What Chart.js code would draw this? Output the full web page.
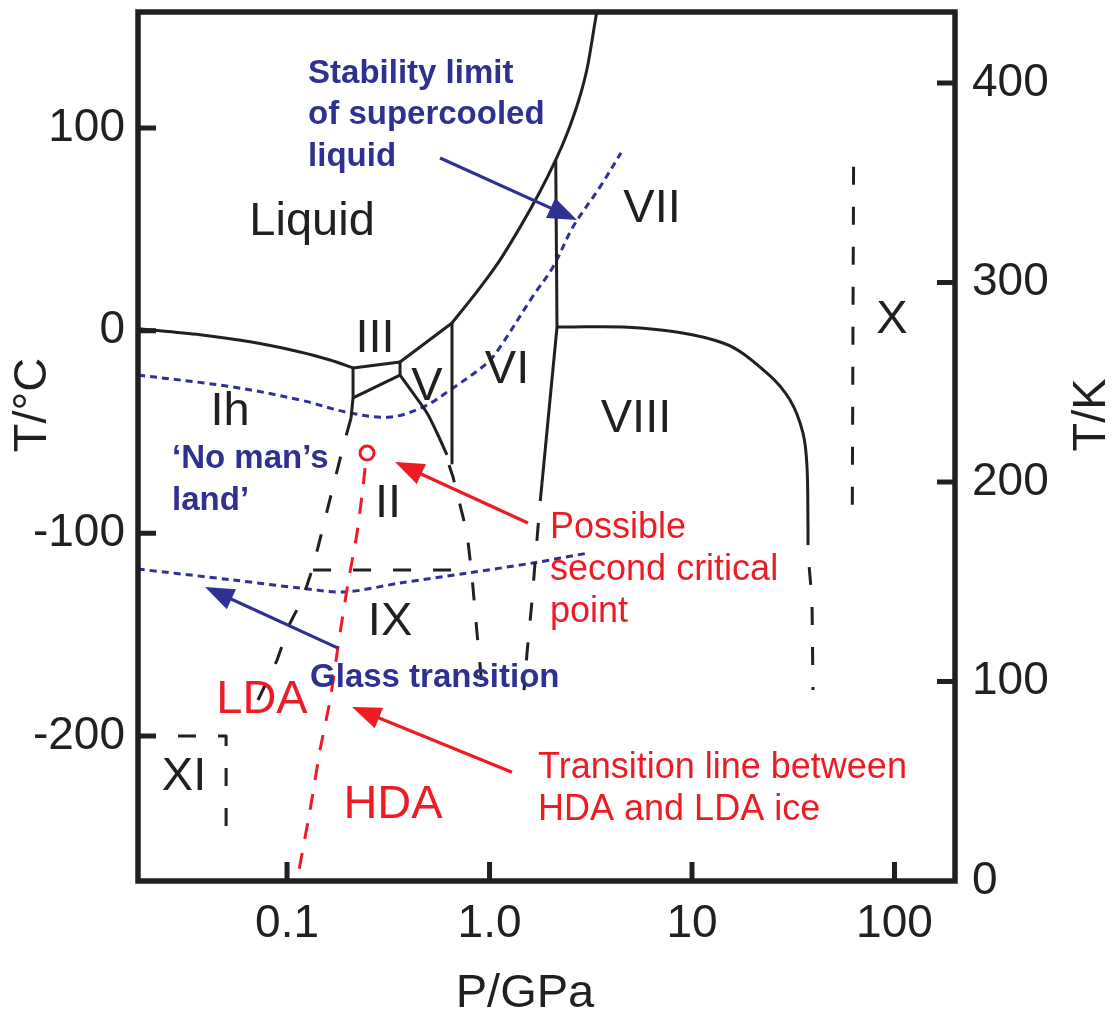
<!DOCTYPE html>
<html lang="en">
<head>
<meta charset="UTF-8">
<title>Phase diagram of water</title>
<script src="https://cdn.jsdelivr.net/npm/chart.js@4.4.0/dist/chart.umd.min.js"></script>
<style>
  body { margin: 0; background: #fff; }
  #chart { display: block; }
</style>
</head>
<body>
<canvas id="chart" width="1115" height="1014"></canvas>
<script>
// axis ranges: P in GPa (log), T in degC on the left, T in K on the right
const pMin = 0.01836, pMax = 199;
const tMin = -271.5, tMax = 157.2;
const kMin = 0, kMax = 435.6;

const xTicks = [0.1, 1, 10, 100];
const xTickLabels = ['0.1', '1.0', '10', '100'];
const yTicks = [100, 0, -100, -200];
const kTicks = [0, 100, 200, 300, 400];

// solid phase boundaries (P GPa, T degC)
const meltIhP = [0.01836, 0.0372, 0.0657, 0.1159, 0.1631, 0.2118];
const meltIhT = [1, -2, -5.5, -10.5, -14.5, -18.4];
const liqIIIP = [0.2118, 0.3614];
const liqIIIT = [-18.4, -15.5];
const liqVP = [0.3614, 0.6526];
const liqVT = [-15.5, 3.8];
const liqHighP = [0.6526, 0.8577, 1.102, 1.418, 1.760, 2.123, 2.422, 2.761, 3.044, 3.380, 3.46];
const liqHighT = [3.8, 18.6, 33.4, 51.2, 67.9, 84.2, 97.5, 113.8, 130.1, 156.7, 160];
const ihIIIP = [0.2118, 0.2118, 0.2070];
const ihIIIT = [-18.4, -33.2, -43.1];
const iiiVP = [0.3614, 0.3614];
const iiiVT = [-15.5, -21.9];
const iiiIIP = [0.3614, 0.2118];
const iiiIIT = [-21.9, -33.2];
const vIIP = [0.3614, 0.4191, 0.4912, 0.5505, 0.6167];
const vIIT = [-21.9, -30.8, -40.6, -50.5, -61.3];
const vVIP = [0.6526, 0.6526];
const vVIT = [3.8, -65.3];
const viVIIP = [2.123, 2.154];
const viVIIT = [84.2, 1.8];
const viVIIIP = [2.154, 1.816];
const viVIIIT = [1.8, -75.2];
const viiVIIIP = [2.154, 5.536, 14.23, 23.47, 30.48, 35.33, 36.98, 37.40];
const viiVIIIT = [1.8, 1.3, -6.1, -20.9, -34.2, -50.5, -67.3, -96.9];

// dashed (metastable / extrapolated) boundaries
const ihIIP = [0.2070, 0.1890, 0.1687, 0.1506, 0.1344, 0.1186, 0.1035, 0.0893, 0.0719];
const ihIIT = [-43.1, -57.4, -77.1, -96.9, -116.6, -132.9, -144.2, -162.5, -182.2];
const ixTopP = [0.1344, 0.8196];
const ixTopT = [-118.1, -118.1];
const vIIextP = [0.6310, 0.6602, 0.7743, 0.8196, 0.8675, 0.9288];
const vIIextT = [-66.3, -72.2, -99.8, -121.5, -149.2, -180.8];
const viVIIIextP = [1.816, 1.776, 1.678, 1.622, 1.532, 1.480];
const viVIIIextT = [-75.2, -85.0, -114.6, -132.9, -159.0, -177.3];
const viiVIIIextP = [37.40, 37.40, 39.14, 39.58];
const viiVIIIextT = [-96.9, -109.7, -132.9, -177.3];
const iceXP = [62.8, 61.9];
const iceXT = [80.8, -87.0];
const iceXIP = [0.01836, 0.05, 0.05];
const iceXIT = [-200, -200, -250.3];

// HDA / LDA transition line and second critical point
const hdaLdaP = [0.2428, 0.2373, 0.2217, 0.2001, 0.1827, 0.1631, 0.1455, 0.1299, 0.1120];
const hdaLdaT = [-67.8, -77.1, -99.8, -124.5, -149.2, -182.2, -206.9, -236.5, -271.5];
const critP = [0.2484];
const critT = [-60.4];

// blue dotted lines
const stabP = [0.01836, 0.0541, 0.1159, 0.2048, 0.3226, 0.4694, 0.6378, 0.9720, 1.127, 1.640, 2.059, 2.584, 3.513, 4.461];
const stabT = [-21.9, -27.8, -34.2, -40.6, -42.6, -37.7, -29.3, -16.0, -8.1, 17.1, 31.4, 51.2, 70.9, 87.7];
const glassP = [0.01836, 0.0541, 0.1159, 0.1934, 0.3614, 0.7743, 1.640, 3.065];
const glassT = [-117.6, -123.0, -127.0, -128.9, -124.5, -119.6, -114.6, -109.7];

// phase labels (centre x, baseline y)
const regionNames = ['Liquid', 'III', 'V', 'VI', 'VII', 'VIII', 'X', 'Ih', 'II', 'IX', 'XI'];
const regionP = [0.1329, 0.2721, 0.4912, 1.220, 6.347, 5.290, 97.2, 0.0523, 0.3153, 0.3226, 0.0310];
const regionT = [47.2, -10.5, -34.2, -25.8, 53.6, -50.0, -1.2, -46.5, -91.9, -150.2, -226.6];
const amorphNames = ['LDA', 'HDA'];
const amorphP = [0.0752, 0.3338];
const amorphT = [-188.6, -240.5];

// notes (left x, first baseline y)
const blueNoteLines = [['Stability limit', 'of supercooled', 'liquid'], ['\u2018No man\u2019s', 'land\u2019'], ['Glass transition']];
const blueNoteP = [0.1270, 0.02704, 0.1299];
const blueNoteT = [122.2, -67.8, -175.8];
const redNoteLines = [['Possible', 'second critical', 'point'], ['Transition line between', 'HDA and LDA ice']];
const redNoteP = [1.990, 1.736];
const redNoteT = [-102.3, -220.7];

// arrows: tail -> tip
const arrowFromP = [0.5696, 0.1786, 1.549, 1.291];
const arrowFromT = [85.2, -156.6, -94.9, -217.8];
const arrowToP = [2.704, 0.03936, 0.3415, 0.2094];
const arrowToT = [54.6, -126.5, -64.8, -185.7];

const INK = '#231f20';
const BLUE = '#2e3192';
const RED = '#ed1c24';
const FONT = "'Liberation Sans', Arial, Helvetica, sans-serif";
const arrowColors = [BLUE, BLUE, RED, RED];

function pts(P, T) {
    return P.map((p, i) => ({ x: p, y: T[i] }));
}

function line(P, T, color, width, dash, tension) {
    return {
        data: pts(P, T),
        showLine: true,
        borderColor: color,
        borderWidth: width,
        borderDash: dash,
        pointRadius: 0,
        pointHoverRadius: 0,
        tension: tension || 0,
        borderCapStyle: 'butt',
        borderJoinStyle: 'round',
        yAxisID: 'y'
    };
}

const solid = (P, T, tension) => line(P, T, INK, 3, [], tension);
const dashed = (P, T) => line(P, T, INK, 3, [18, 22], 0);

const datasets = [
    solid(meltIhP, meltIhT, 0.3),
    solid(liqIIIP, liqIIIT),
    solid(liqVP, liqVT),
    solid(liqHighP, liqHighT, 0.3),
    solid(ihIIIP, ihIIIT),
    solid(iiiVP, iiiVT),
    solid(iiiIIP, iiiIIT),
    solid(vIIP, vIIT, 0.3),
    solid(vVIP, vVIT),
    solid(viVIIP, viVIIT),
    solid(viVIIIP, viVIIIT),
    solid(viiVIIIP, viiVIIIT, 0.35),
    dashed(ihIIP, ihIIT),
    dashed(ixTopP, ixTopT),
    dashed(vIIextP, vIIextT),
    dashed(viVIIIextP, viVIIIextT),
    dashed(viiVIIIextP, viiVIIIextT),
    dashed(iceXP, iceXT),
    dashed(iceXIP, iceXIT),
    line(hdaLdaP, hdaLdaT, RED, 3, [16, 14], 0.2),
    line(stabP, stabT, BLUE, 3, [7, 5], 0.35),
    line(glassP, glassT, BLUE, 3, [7, 5], 0.3),
    {
        data: pts(critP, critT),
        showLine: false,
        pointRadius: 7,
        pointHoverRadius: 7,
        pointBorderWidth: 3,
        pointBorderColor: RED,
        pointBackgroundColor: '#fff',
        yAxisID: 'y'
    }
];

function drawArrow(ctx, x0, y0, x1, y1, color) {
    const a = Math.atan2(y1 - y0, x1 - x0);
    const c = Math.cos(a), s = Math.sin(a);
    const len = 29, half = 11;
    ctx.strokeStyle = color;
    ctx.fillStyle = color;
    ctx.lineWidth = 3.2;
    ctx.setLineDash([]);
    ctx.beginPath();
    ctx.moveTo(x0, y0);
    ctx.lineTo(x1 - len * 0.8 * c, y1 - len * 0.8 * s);
    ctx.stroke();
    ctx.beginPath();
    ctx.moveTo(x1, y1);
    ctx.lineTo(x1 - len * c + half * s, y1 - len * s - half * c);
    ctx.lineTo(x1 - len * c - half * s, y1 - len * s + half * c);
    ctx.closePath();
    ctx.fill();
}

// frame, inward ticks, labels, notes, arrows, axis titles
const decor = {
    id: 'decor',
    afterDatasetsDraw(chart) {
        const { ctx, chartArea: a, scales } = chart;
        const X = v => scales.x.getPixelForValue(v);
        const Y = v => scales.y.getPixelForValue(v);
        ctx.save();

        ctx.strokeStyle = INK;
        ctx.lineWidth = 5.5;
        ctx.strokeRect(a.left, a.top, a.right - a.left, a.bottom - a.top);

        ctx.lineWidth = 5;
        ctx.beginPath();
        scales.x.ticks.forEach(t => {
            const px = X(t.value);
            ctx.moveTo(px, a.bottom); ctx.lineTo(px, a.bottom - 19);
        });
        scales.y.ticks.forEach(t => {
            const py = Y(t.value);
            ctx.moveTo(a.left, py); ctx.lineTo(a.left + 18, py);
        });
        scales.yK.ticks.forEach(t => {
            if (t.value === 0) return;
            const py = scales.yK.getPixelForValue(t.value);
            ctx.moveTo(a.right, py); ctx.lineTo(a.right - 18, py);
        });
        ctx.stroke();

        ctx.textBaseline = 'alphabetic';
        ctx.textAlign = 'center';
        ctx.font = '47px ' + FONT;
        ctx.fillStyle = INK;
        regionNames.forEach((n, i) => ctx.fillText(n, X(regionP[i]), Y(regionT[i])));
        ctx.fillStyle = RED;
        amorphNames.forEach((n, i) => ctx.fillText(n, X(amorphP[i]), Y(amorphT[i])));

        ctx.textAlign = 'left';
        ctx.font = 'bold 33px ' + FONT;
        ctx.fillStyle = BLUE;
        blueNoteLines.forEach((lines, i) => {
            lines.forEach((s, j) => ctx.fillText(s, X(blueNoteP[i]), Y(blueNoteT[i]) + j * 41.5));
        });
        ctx.font = '36px ' + FONT;
        ctx.fillStyle = RED;
        redNoteLines.forEach((lines, i) => {
            lines.forEach((s, j) => ctx.fillText(s, X(redNoteP[i]), Y(redNoteT[i]) + j * 42));
        });

        arrowFromP.forEach((p, i) => {
            drawArrow(ctx, X(p), Y(arrowFromT[i]), X(arrowToP[i]), Y(arrowToT[i]), arrowColors[i]);
        });

        // axis titles
        ctx.fillStyle = INK;
        ctx.font = '47px ' + FONT;
        ctx.textAlign = 'center';
        ctx.fillText('P/GPa', a.left + 387, a.bottom + 126);
        ctx.textBaseline = 'middle';
        [['T/\u00B0C', 33, 405], ['T/K', 1092, 415]].forEach(([s, x, y]) => {
            ctx.save();
            ctx.translate(x, y);
            ctx.rotate(-Math.PI / 2);
            ctx.fillText(s, 0, 0);
            ctx.restore();
        });
        ctx.restore();
    }
};

const tickFont = { family: FONT, size: 46 };
const noGrid = { display: false, drawTicks: false };

new Chart(document.getElementById('chart').getContext('2d'), {
    type: 'scatter',
    data: { datasets },
    options: {
        responsive: false,
        animation: false,
        layout: { padding: { top: 12, left: 0, right: 0, bottom: 0 } },
        plugins: { legend: { display: false }, tooltip: { enabled: false } },
        scales: {
            x: {
                type: 'logarithmic',
                min: pMin,
                max: pMax,
                grid: noGrid,
                border: { display: false },
                afterBuildTicks: s => { s.ticks = xTicks.map(v => ({ value: v })); },
                afterFit: s => { s.height = 133; s.paddingLeft = 0; s.paddingRight = 0; },
                ticks: {
                    font: tickFont, color: INK, padding: 16, maxRotation: 0, autoSkip: false,
                    callback: (v, i) => xTickLabels[i]
                }
            },
            y: {
                position: 'left',
                min: tMin,
                max: tMax,
                grid: noGrid,
                border: { display: false },
                afterBuildTicks: s => { s.ticks = yTicks.map(v => ({ value: v })); },
                afterFit: s => { s.width = 138; s.paddingTop = 0; s.paddingBottom = 0; },
                ticks: { font: tickFont, color: INK, padding: 13, callback: v => String(v) }
            },
            yK: {
                position: 'right',
                min: kMin,
                max: kMax,
                grid: noGrid,
                border: { display: false },
                afterBuildTicks: s => { s.ticks = kTicks.map(v => ({ value: v })); },
                afterFit: s => { s.width = 160; s.paddingTop = 0; s.paddingBottom = 0; },
                ticks: { font: tickFont, color: INK, padding: 17, callback: v => String(v) }
            }
        }
    },
    plugins: [decor]
});
</script>
</body>
</html>
